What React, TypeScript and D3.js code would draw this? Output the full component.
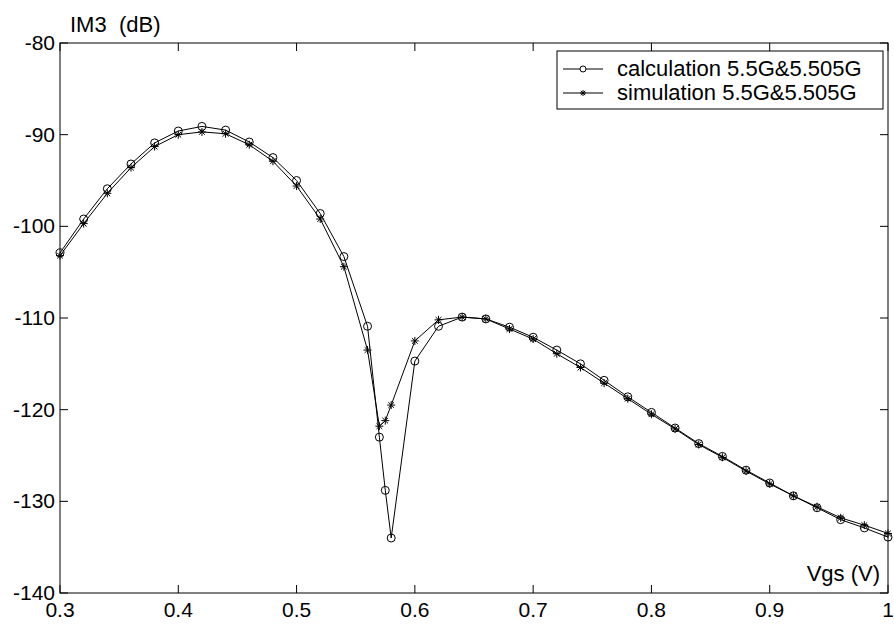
import React from "react";
import * as d3 from "d3";

// calculation series (circles)
const calcX = [0.3, 0.32, 0.34, 0.36, 0.38, 0.4, 0.42, 0.44, 0.46, 0.48, 0.5, 0.52, 0.54, 0.56, 0.57, 0.575, 0.58, 0.6, 0.62, 0.64, 0.66, 0.68, 0.7, 0.72, 0.74, 0.76, 0.78, 0.8, 0.82, 0.84, 0.86, 0.88, 0.9, 0.92, 0.94, 0.96, 0.98, 1.0];
const calcY = [-102.9, -99.2, -95.9, -93.2, -90.9, -89.6, -89.1, -89.5, -90.8, -92.5, -95.0, -98.6, -103.3, -110.9, -123.0, -128.8, -134.0, -114.7, -110.9, -109.9, -110.1, -111.0, -112.1, -113.5, -115.0, -116.8, -118.6, -120.3, -122.0, -123.7, -125.1, -126.6, -128.0, -129.4, -130.7, -132.0, -132.9, -133.9];

// simulation series (stars)
const simX = [0.3, 0.32, 0.34, 0.36, 0.38, 0.4, 0.42, 0.44, 0.46, 0.48, 0.5, 0.52, 0.54, 0.56, 0.57, 0.575, 0.58, 0.6, 0.62, 0.64, 0.66, 0.68, 0.7, 0.72, 0.74, 0.76, 0.78, 0.8, 0.82, 0.84, 0.86, 0.88, 0.9, 0.92, 0.94, 0.96, 0.98, 1.0];
const simY = [-103.2, -99.7, -96.4, -93.6, -91.3, -90.0, -89.7, -89.9, -91.1, -92.9, -95.6, -99.2, -104.4, -113.5, -121.8, -121.2, -119.5, -112.5, -110.2, -109.9, -110.1, -111.2, -112.3, -113.9, -115.4, -117.1, -118.8, -120.5, -122.1, -123.8, -125.2, -126.7, -128.1, -129.4, -130.6, -131.8, -132.6, -133.5];

const xTicks = [0.3, 0.4, 0.5, 0.6, 0.7, 0.8, 0.9, 1];
const yTicks = [-80, -90, -100, -110, -120, -130, -140];
const legendLabels = ["calculation 5.5G&5.505G", "simulation 5.5G&5.505G"];

const W = 894;
const H = 624;
const m = { left: 60, right: 6, top: 43, bottom: 31 };
const font = "'Liberation Sans', Arial, sans-serif";

const Star = ({ x, y, s = 4 }: { x: number; y: number; s?: number }) => {
  const d = s * 0.72;
  return (
    <path
      d={`M${x - s},${y}H${x + s}M${x},${y - s}V${y + s}M${x - d},${y - d}L${x + d},${y + d}M${x - d},${y + d}L${x + d},${y - d}`}
      stroke="#000"
      strokeWidth={1}
      fill="none"
    />
  );
};

const App = () => {
  const x = d3.scaleLinear().domain([0.3, 1]).range([m.left, W - m.right]);
  const y = d3.scaleLinear().domain([-140, -80]).range([H - m.bottom, m.top]);

  const line = d3
    .line<[number, number]>()
    .x((d) => x(d[0]))
    .y((d) => y(d[1]));

  const calc = calcX.map((v, i) => [v, calcY[i]] as [number, number]);
  const sim = simX.map((v, i) => [v, simY[i]] as [number, number]);

  const x0 = x.range()[0];
  const x1 = x.range()[1];
  const y0 = y.range()[0];
  const y1 = y.range()[1];
  const tl = 8;

  // legend box
  const lg = { x: 557, y: 51, w: 326, h: 58 };

  return (
    <svg
      width={W}
      height={H}
      style={{ position: "absolute", left: 0, top: 0, background: "#fff" }}
      fontFamily={font}
    >
      <rect width={W} height={H} fill="#fff" />

      {/* ticks, inward on all four sides */}
      {xTicks.map((t) => (
        <g key={"x" + t}>
          <line x1={x(t)} x2={x(t)} y1={y0} y2={y0 - tl} stroke="#000" />
          <line x1={x(t)} x2={x(t)} y1={y1} y2={y1 + tl} stroke="#000" />
          <text x={x(t)} y={617} textAnchor="middle" fontSize={21}>
            {t}
          </text>
        </g>
      ))}
      {yTicks.map((t) => (
        <g key={"y" + t}>
          <line x1={x0} x2={x0 + tl} y1={y(t)} y2={y(t)} stroke="#000" />
          <line x1={x1} x2={x1 - tl} y1={y(t)} y2={y(t)} stroke="#000" />
          <text x={55} y={y(t) + 7} textAnchor="end" fontSize={21}>
            {t}
          </text>
        </g>
      ))}

      <rect x={x0} y={y1} width={x1 - x0} height={y0 - y1} fill="none" stroke="#000" strokeWidth={1} />

      {/* series */}
      <path d={line(calc) || ""} fill="none" stroke="#000" strokeWidth={1} />
      <path d={line(sim) || ""} fill="none" stroke="#000" strokeWidth={1} />
      {calc.map((d, i) => (
        <circle key={"c" + i} cx={x(d[0])} cy={y(d[1])} r={4} fill="none" stroke="#000" />
      ))}
      {sim.map((d, i) => (
        <Star key={"s" + i} x={x(d[0])} y={y(d[1])} />
      ))}

      {/* axis titles */}
      <text x={70} y={32} fontSize={22}>
        IM3{"\u00a0\u00a0"}(dB)
      </text>
      <text x={880} y={581} textAnchor="end" fontSize={22}>
        Vgs (V)
      </text>

      {/* legend */}
      <rect x={lg.x} y={lg.y} width={lg.w} height={lg.h} fill="#fff" stroke="#000" />
      {legendLabels.map((lab, i) => {
        const ly = 69 + i * 24;
        return (
          <g key={lab}>
            <line x1={563} x2={603} y1={ly} y2={ly} stroke="#000" />
            {i === 0 ? (
              <circle cx={583} cy={ly} r={3} fill="#fff" stroke="#000" />
            ) : (
              <Star x={583} y={ly} s={3} />
            )}
            <text x={617} y={ly + 7} fontSize={22}>
              {lab}
            </text>
          </g>
        );
      })}
    </svg>
  );
};

export default App;
